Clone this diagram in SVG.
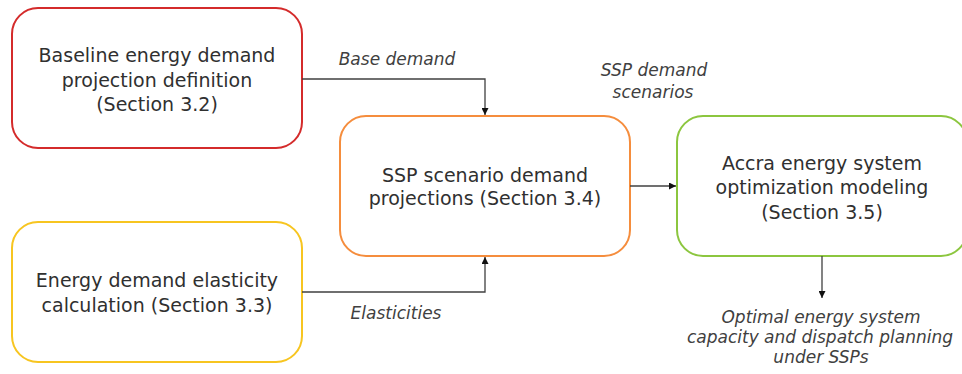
<svg xmlns="http://www.w3.org/2000/svg" width="962" height="374" viewBox="0 0 962 374">
<defs>
<style>
.box{fill:#fff;stroke-width:2}
.t{font-family:"DejaVu Sans","Liberation Sans",sans-serif;font-size:19px;fill:#303030;text-anchor:middle}
.l{font-family:"DejaVu Sans","Liberation Sans",sans-serif;font-size:17px;font-style:italic;fill:#404040;text-anchor:middle}
.c{fill:none;stroke:#404040;stroke-width:1.3}
</style>
<marker id="ah" viewBox="0 0 10 10" refX="10" refY="5" markerWidth="7" markerHeight="7" orient="auto" markerUnits="userSpaceOnUse">
<path d="M0,0L10,5L0,10z" fill="#111"/>
</marker>
</defs>
<rect width="962" height="374" fill="#fff"/>
<g id="n1">
<rect class="box" x="12" y="8" width="290" height="140" rx="26" stroke="#d42b2b"/>
<text class="t" x="157" y="62">Baseline energy demand</text>
<text class="t" x="157" y="87">projection definition</text>
<text class="t" x="157" y="111">(Section 3.2)</text>
</g>
<g id="n2">
<rect class="box" x="12" y="222" width="290" height="140" rx="26" stroke="#f7c520"/>
<text class="t" x="157" y="287">Energy demand elasticity</text>
<text class="t" x="157" y="312">calculation (Section 3.3)</text>
</g>
<g id="n3">
<rect class="box" x="340" y="116" width="290" height="140" rx="26" stroke="#f58d3d"/>
<text class="t" x="485" y="182">SSP scenario demand</text>
<text class="t" x="485" y="205">projections (Section 3.4)</text>
</g>
<g id="n4">
<rect class="box" x="677" y="116" width="290" height="140" rx="26" stroke="#8cc63f"/>
<text class="t" x="822" y="170">Accra energy system</text>
<text class="t" x="822" y="194">optimization modeling</text>
<text class="t" x="822" y="219">(Section 3.5)</text>
</g>
<g id="connectors">
<path class="c" d="M302,79H485V115" marker-end="url(#ah)"/>
<path class="c" d="M302,292H485V257" marker-end="url(#ah)"/>
<path class="c" d="M630,186H676" marker-end="url(#ah)"/>
<path class="c" d="M822,256V298" marker-end="url(#ah)"/>
<text class="l" x="397" y="65">Base demand</text>
<text class="l" x="396" y="319">Elasticities</text>
<text class="l" x="654" y="76">SSP demand</text>
<text class="l" x="653" y="98">scenarios</text>
<text class="l" x="821" y="323">Optimal energy system</text>
<text class="l" x="820" y="343">capacity and dispatch planning</text>
<text class="l" x="821" y="363">under SSPs</text>
</g>
</svg>
